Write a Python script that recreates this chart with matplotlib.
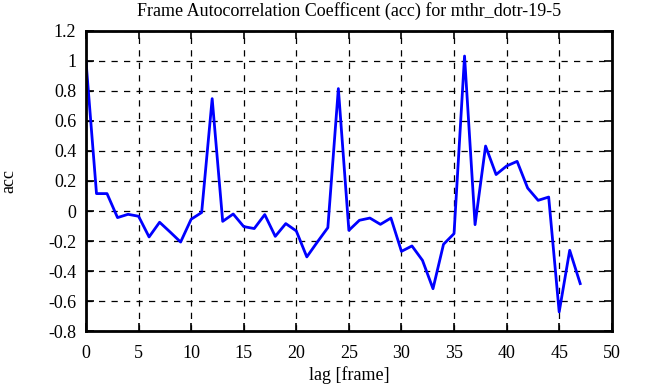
import matplotlib
matplotlib.use("Agg")
import matplotlib.pyplot as plt

lag = list(range(48))
acc = [1.0, 0.116, 0.116, -0.044, -0.022, -0.035, -0.173, -0.075, -0.14, -0.207,
       -0.055, -0.01, 0.749, -0.069, -0.02, -0.104, -0.117, -0.024, -0.169, -0.084,
       -0.133, -0.306, -0.207, -0.111, 0.816, -0.129, -0.062, -0.047, -0.089, -0.047,
       -0.269, -0.233, -0.329, -0.518, -0.222, -0.151, 1.033, -0.091, 0.433, 0.243,
       0.3, 0.331, 0.153, 0.071, 0.093, -0.673, -0.262, -0.484]

xticks = list(range(0, 51, 5))
yticks = [-0.8, -0.6, -0.4, -0.2, 0, 0.2, 0.4, 0.6, 0.8, 1, 1.2]
ytick_labels = ["-0.8", "-0.6", "-0.4", "-0.2", "0", "0.2", "0.4", "0.6", "0.8", "1", "1.2"]

plt.rcParams['font.family'] = ['Liberation Serif', 'DejaVu Serif']

fig = plt.figure(figsize=(6.46, 3.87), dpi=100)
ax = fig.add_axes([0.1331, 0.1447, 0.8139, 0.7752])

ax.plot(lag, acc, color='#0000ff', linewidth=2)

ax.set_xlim(0, 50)
ax.set_ylim(-0.8, 1.2)
ax.set_xticks(xticks)
ax.set_yticks(yticks)
ax.set_yticklabels(ytick_labels)
ax.tick_params(direction='in', top=True, right=True, length=6, width=1.2,
               labelsize=13)
ax.tick_params(axis='x', pad=10)
ax.tick_params(axis='y', pad=7)
ax.grid(True, color='black', linestyle=(0, (5, 5)), linewidth=0.9)
for s in ax.spines.values():
    s.set_linewidth(2)

ax.set_title("Frame Autocorrelation Coefficent (acc) for mthr_dotr-19-5", fontsize=13, pad=11)
ax.set_xlabel("lag [frame]", fontsize=13, labelpad=3)
ax.set_ylabel("acc", fontsize=13, labelpad=22)

fig.savefig("out.png", dpi=100)
